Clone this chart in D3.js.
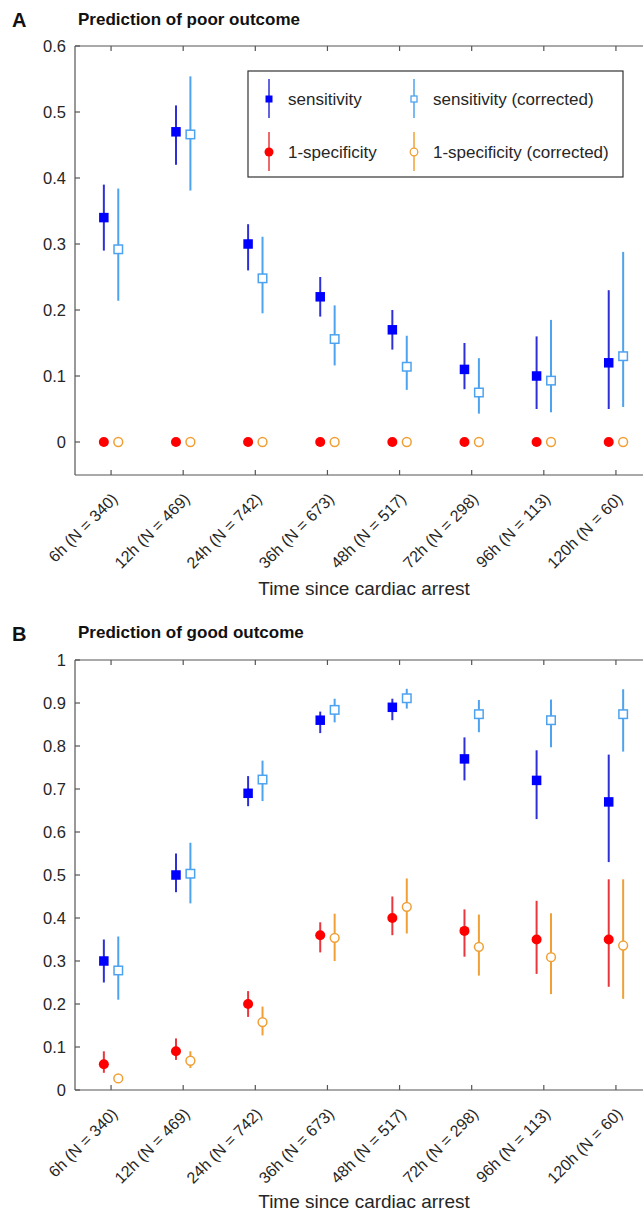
<!DOCTYPE html>
<html><head><meta charset="utf-8">
<script src="https://cdn.jsdelivr.net/npm/d3@7"></script>
<style>body{margin:0;background:#fff}svg{display:block;font-family:"Liberation Sans",Arial,Helvetica,sans-serif}</style>
</head><body><svg id="c" width="643" height="1214"></svg>
<script>
const categories = ["6h (N = 340)","12h (N = 469)","24h (N = 742)","36h (N = 673)","48h (N = 517)","72h (N = 298)","96h (N = 113)","120h (N = 60)"];

// Panel A: prediction of poor outcome
const poorSens      = [0.34, 0.47, 0.30, 0.22, 0.17, 0.11, 0.10, 0.12];
const poorSensLo    = [0.29, 0.42, 0.26, 0.19, 0.14, 0.08, 0.05, 0.05];
const poorSensHi    = [0.39, 0.51, 0.33, 0.25, 0.20, 0.15, 0.16, 0.23];
const poorSensC     = [0.292, 0.466, 0.248, 0.156, 0.114, 0.075, 0.093, 0.130];
const poorSensCLo   = [0.214, 0.381, 0.195, 0.116, 0.079, 0.043, 0.045, 0.053];
const poorSensCHi   = [0.384, 0.554, 0.311, 0.207, 0.161, 0.127, 0.185, 0.288];
const poorSpec      = [0, 0, 0, 0, 0, 0, 0, 0];
const poorSpecC     = [0, 0, 0, 0, 0, 0, 0, 0];

// Panel B: prediction of good outcome
const goodSens      = [0.30, 0.50, 0.69, 0.86, 0.89, 0.77, 0.72, 0.67];
const goodSensLo    = [0.25, 0.46, 0.66, 0.83, 0.86, 0.72, 0.63, 0.53];
const goodSensHi    = [0.35, 0.55, 0.73, 0.88, 0.91, 0.82, 0.79, 0.78];
const goodSensC     = [0.278, 0.503, 0.722, 0.884, 0.911, 0.874, 0.860, 0.874];
const goodSensCLo   = [0.210, 0.434, 0.672, 0.855, 0.887, 0.832, 0.797, 0.787];
const goodSensCHi   = [0.357, 0.575, 0.766, 0.910, 0.933, 0.907, 0.908, 0.932];
const goodSpec      = [0.06, 0.09, 0.20, 0.36, 0.40, 0.37, 0.35, 0.35];
const goodSpecLo    = [0.04, 0.07, 0.17, 0.32, 0.36, 0.31, 0.27, 0.24];
const goodSpecHi    = [0.09, 0.12, 0.23, 0.39, 0.45, 0.42, 0.44, 0.49];
const goodSpecC     = [0.027, 0.068, 0.158, 0.354, 0.426, 0.333, 0.309, 0.336];
const goodSpecCLo   = [0.020, 0.051, 0.127, 0.300, 0.364, 0.266, 0.223, 0.212];
const goodSpecCHi   = [0.035, 0.090, 0.194, 0.410, 0.492, 0.408, 0.411, 0.490];

const yTicksA = [0, 0.1, 0.2, 0.3, 0.4, 0.5, 0.6];
const yTicksB = [0, 0.1, 0.2, 0.3, 0.4, 0.5, 0.6, 0.7, 0.8, 0.9, 1];

const legendLabels = ["sensitivity", "sensitivity (corrected)", "1-specificity", "1-specificity (corrected)"];

const C = {
  sens: "#0000ff", sensLine: "#2f2fd6",
  sensC: "#4da3ef",
  spec: "#ff0000", specLine: "#e8373d",
  specC: "#f0a035"
};

const svg = d3.select("#c");
const x = d3.scaleLinear().domain([0.5, 8.5]).range([75, 652]);
const off = 0.1;
const textCol = "#262626", axisCol = "#555";

function panel(opts) {
  const { y, ticks, yFmt, top, bottom, letter, title, titleY, letterY, series, xlabY } = opts;
  const g = svg.append("g");
  g.append("line").attr("x1", 75).attr("x2", 652).attr("y1", top).attr("y2", top).attr("stroke", axisCol).attr("stroke-width", 1.2);
  g.append("line").attr("x1", 75).attr("x2", 652).attr("y1", bottom).attr("y2", bottom).attr("stroke", axisCol).attr("stroke-width", 1.2);
  g.append("line").attr("x1", 75).attr("x2", 75).attr("y1", top).attr("y2", bottom).attr("stroke", axisCol).attr("stroke-width", 1.2);
  const xt = d3.range(1, categories.length + 1);
  g.selectAll(".xtb").data(xt).join("line").attr("x1", d => x(d)).attr("x2", d => x(d))
    .attr("y1", bottom).attr("y2", bottom - 5).attr("stroke", axisCol).attr("stroke-width", 1.2);
  g.selectAll(".xtt").data(xt).join("line").attr("x1", d => x(d)).attr("x2", d => x(d))
    .attr("y1", top).attr("y2", top + 5).attr("stroke", axisCol).attr("stroke-width", 1.2);
  g.selectAll(".yt").data(ticks).join("line").attr("x1", 75).attr("x2", 80)
    .attr("y1", d => y(d)).attr("y2", d => y(d)).attr("stroke", axisCol).attr("stroke-width", 1.2);
  g.selectAll(".ytl").data(ticks).join("text").attr("x", 66).attr("y", d => y(d)).attr("dy", "0.36em")
    .attr("text-anchor", "end").attr("font-size", 16.5).attr("fill", textCol).text(yFmt);
  g.selectAll(".xtl").data(categories).join("text")
    .attr("transform", (d, i) => `translate(${x(i + 1) + 7.5},${bottom + 25}) rotate(-45)`)
    .attr("text-anchor", "end").attr("font-size", 16).attr("fill", textCol).text(d => d);
  g.append("text").attr("x", 364).attr("y", xlabY).attr("text-anchor", "middle").attr("font-size", 19)
    .attr("fill", textCol).text("Time since cardiac arrest");
  g.append("text").attr("x", 12).attr("y", letterY).attr("font-size", 20).attr("font-weight", "bold").attr("fill", "#111").text(letter);
  g.append("text").attr("x", 78).attr("y", titleY).attr("font-size", 17).attr("font-weight", "bold").attr("fill", "#111").text(title);

  series.forEach(s => {
    const sg = g.append("g");
    const idx = d3.range(s.v.length);
    if (s.lo) {
      sg.selectAll("line").data(idx).join("line")
        .attr("x1", i => x(i + 1 + s.dx)).attr("x2", i => x(i + 1 + s.dx))
        .attr("y1", i => y(s.lo[i])).attr("y2", i => y(s.hi[i]))
        .attr("stroke", s.line).attr("stroke-width", 2);
    }
    if (s.shape === "square") {
      const sz = s.filled ? 9.5 : 8.5;
      sg.selectAll("rect").data(idx).join("rect")
        .attr("x", i => x(i + 1 + s.dx) - sz / 2).attr("y", i => y(s.v[i]) - sz / 2)
        .attr("width", sz).attr("height", sz)
        .attr("fill", s.filled ? s.color : "#fff").attr("stroke", s.color).attr("stroke-width", s.filled ? 0 : 1.5);
    } else {
      sg.selectAll("circle").data(idx).join("circle")
        .attr("cx", i => x(i + 1 + s.dx)).attr("cy", i => y(s.v[i]))
        .attr("r", s.filled ? 5 : 4.4)
        .attr("fill", s.filled ? s.color : "#fff").attr("stroke", s.color).attr("stroke-width", s.filled ? 0 : 1.5);
    }
  });
}

const yA = d3.scaleLinear().domain([-0.05, 0.6]).range([475, 46]);
panel({
  y: yA, ticks: yTicksA, yFmt: d => d === 0 ? "0" : d3.format(".1f")(d), top: 46, bottom: 475,
  letter: "A", title: "Prediction of poor outcome", titleY: 25, letterY: 27, xlabY: 595,
  series: [
    { v: poorSens, lo: poorSensLo, hi: poorSensHi, dx: -off, shape: "square", filled: true, color: C.sens, line: C.sensLine },
    { v: poorSensC, lo: poorSensCLo, hi: poorSensCHi, dx: off, shape: "square", filled: false, color: C.sensC, line: C.sensC },
    { v: poorSpec, dx: -off, shape: "circle", filled: true, color: C.spec },
    { v: poorSpecC, dx: off, shape: "circle", filled: false, color: C.specC }
  ]
});

const yB = d3.scaleLinear().domain([0, 1]).range([1090, 660]);
panel({
  y: yB, ticks: yTicksB, yFmt: d => (d === 0 || d === 1) ? String(d) : d3.format(".1f")(d), top: 660, bottom: 1090,
  letter: "B", title: "Prediction of good outcome", titleY: 638, letterY: 641, xlabY: 1208,
  series: [
    { v: goodSens, lo: goodSensLo, hi: goodSensHi, dx: -off, shape: "square", filled: true, color: C.sens, line: C.sensLine },
    { v: goodSensC, lo: goodSensCLo, hi: goodSensCHi, dx: off, shape: "square", filled: false, color: C.sensC, line: C.sensC },
    { v: goodSpec, lo: goodSpecLo, hi: goodSpecHi, dx: -off, shape: "circle", filled: true, color: C.spec, line: C.specLine },
    { v: goodSpecC, lo: goodSpecCLo, hi: goodSpecCHi, dx: off, shape: "circle", filled: false, color: C.specC, line: C.specC }
  ]
});

// legend (panel A)
const lg = svg.append("g");
lg.append("rect").attr("x", 248).attr("y", 71).attr("width", 375).attr("height", 106)
  .attr("fill", "#fff").attr("stroke", "#333").attr("stroke-width", 1.2);
const legItems = [
  { label: legendLabels[0], mx: 269, my: 99, shape: "square", filled: true, color: C.sens, line: C.sensLine },
  { label: legendLabels[1], mx: 414, my: 99, shape: "square", filled: false, color: C.sensC, line: C.sensC },
  { label: legendLabels[2], mx: 269, my: 152, shape: "circle", filled: true, color: C.spec, line: C.specLine },
  { label: legendLabels[3], mx: 414, my: 152, shape: "circle", filled: false, color: C.specC, line: C.specC }
];
legItems.forEach(it => {
  lg.append("line").attr("x1", it.mx).attr("x2", it.mx).attr("y1", it.my - 20).attr("y2", it.my + 19)
    .attr("stroke", it.line).attr("stroke-width", 1.5);
  if (it.shape === "square") {
    const s = it.filled ? 7 : 6;
    lg.append("rect").attr("x", it.mx - s / 2).attr("y", it.my - s / 2).attr("width", s).attr("height", s)
      .attr("fill", it.filled ? it.color : "#fff").attr("stroke", it.color).attr("stroke-width", it.filled ? 0 : 1.3);
  } else {
    lg.append("circle").attr("cx", it.mx).attr("cy", it.my).attr("r", it.filled ? 4.5 : 3.8)
      .attr("fill", it.filled ? it.color : "#fff").attr("stroke", it.color).attr("stroke-width", it.filled ? 0 : 1.3);
  }
  lg.append("text").attr("x", it.mx + 19).attr("y", it.my).attr("dy", "0.36em").attr("font-size", 17)
    .attr("fill", textCol).text(it.label);
});
</script></body></html>
